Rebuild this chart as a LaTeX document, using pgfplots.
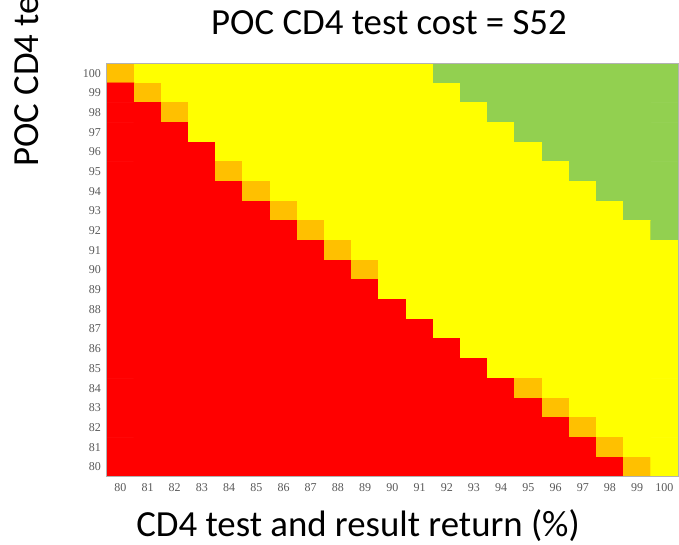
\documentclass[border=0pt]{standalone}
\usepackage{fontspec}
\setmainfont{Carlito}
\newfontfamily\tickfont{Liberation Serif}
\usepackage{pgfplots}
\pgfplotsset{compat=1.18}
\begin{document}
\begin{tikzpicture}
\useasboundingbox (0,0) rectangle (339.5pt,272.5pt);
\begin{axis}[
  at={(53.35pt,34.15pt)}, anchor=south west,
  scale only axis, width=285.65pt, height=206.7pt,
  xmin=79.5, xmax=100.5, ymin=79.5, ymax=100.5,
  xtick={80,...,100}, ytick={80,...,100},
  major tick length=0pt,
  axis line style={draw=gray!60, line width=0.5pt},
  /pgf/number format/assume math mode=true,
  ticklabel style={font=\tickfont\fontsize{6}{7}\selectfont, text=black!65},
  yticklabel style={xshift=0.6pt},
  % 0 = red, 1 = orange, 2 = yellow, 3 = green
  colormap={cd4}{rgb255=(255,0,0) rgb255=(255,192,0) rgb255=(255,255,0) rgb255=(146,208,80)},
  colormap access=direct,
  enlargelimits=false, axis on top,
]
\addplot[matrix plot*, mesh/cols=21, point meta=explicit] coordinates {
(80,100)[1] (81,100)[2] (82,100)[2] (83,100)[2] (84,100)[2] (85,100)[2] (86,100)[2] (87,100)[2] (88,100)[2] (89,100)[2] (90,100)[2] (91,100)[2] (92,100)[3] (93,100)[3] (94,100)[3] (95,100)[3] (96,100)[3] (97,100)[3] (98,100)[3] (99,100)[3] (100,100)[3]
(80,99)[0] (81,99)[1] (82,99)[2] (83,99)[2] (84,99)[2] (85,99)[2] (86,99)[2] (87,99)[2] (88,99)[2] (89,99)[2] (90,99)[2] (91,99)[2] (92,99)[2] (93,99)[3] (94,99)[3] (95,99)[3] (96,99)[3] (97,99)[3] (98,99)[3] (99,99)[3] (100,99)[3]
(80,98)[0] (81,98)[0] (82,98)[1] (83,98)[2] (84,98)[2] (85,98)[2] (86,98)[2] (87,98)[2] (88,98)[2] (89,98)[2] (90,98)[2] (91,98)[2] (92,98)[2] (93,98)[2] (94,98)[3] (95,98)[3] (96,98)[3] (97,98)[3] (98,98)[3] (99,98)[3] (100,98)[3]
(80,97)[0] (81,97)[0] (82,97)[0] (83,97)[2] (84,97)[2] (85,97)[2] (86,97)[2] (87,97)[2] (88,97)[2] (89,97)[2] (90,97)[2] (91,97)[2] (92,97)[2] (93,97)[2] (94,97)[2] (95,97)[3] (96,97)[3] (97,97)[3] (98,97)[3] (99,97)[3] (100,97)[3]
(80,96)[0] (81,96)[0] (82,96)[0] (83,96)[0] (84,96)[2] (85,96)[2] (86,96)[2] (87,96)[2] (88,96)[2] (89,96)[2] (90,96)[2] (91,96)[2] (92,96)[2] (93,96)[2] (94,96)[2] (95,96)[2] (96,96)[3] (97,96)[3] (98,96)[3] (99,96)[3] (100,96)[3]
(80,95)[0] (81,95)[0] (82,95)[0] (83,95)[0] (84,95)[1] (85,95)[2] (86,95)[2] (87,95)[2] (88,95)[2] (89,95)[2] (90,95)[2] (91,95)[2] (92,95)[2] (93,95)[2] (94,95)[2] (95,95)[2] (96,95)[2] (97,95)[3] (98,95)[3] (99,95)[3] (100,95)[3]
(80,94)[0] (81,94)[0] (82,94)[0] (83,94)[0] (84,94)[0] (85,94)[1] (86,94)[2] (87,94)[2] (88,94)[2] (89,94)[2] (90,94)[2] (91,94)[2] (92,94)[2] (93,94)[2] (94,94)[2] (95,94)[2] (96,94)[2] (97,94)[2] (98,94)[3] (99,94)[3] (100,94)[3]
(80,93)[0] (81,93)[0] (82,93)[0] (83,93)[0] (84,93)[0] (85,93)[0] (86,93)[1] (87,93)[2] (88,93)[2] (89,93)[2] (90,93)[2] (91,93)[2] (92,93)[2] (93,93)[2] (94,93)[2] (95,93)[2] (96,93)[2] (97,93)[2] (98,93)[2] (99,93)[3] (100,93)[3]
(80,92)[0] (81,92)[0] (82,92)[0] (83,92)[0] (84,92)[0] (85,92)[0] (86,92)[0] (87,92)[1] (88,92)[2] (89,92)[2] (90,92)[2] (91,92)[2] (92,92)[2] (93,92)[2] (94,92)[2] (95,92)[2] (96,92)[2] (97,92)[2] (98,92)[2] (99,92)[2] (100,92)[3]
(80,91)[0] (81,91)[0] (82,91)[0] (83,91)[0] (84,91)[0] (85,91)[0] (86,91)[0] (87,91)[0] (88,91)[1] (89,91)[2] (90,91)[2] (91,91)[2] (92,91)[2] (93,91)[2] (94,91)[2] (95,91)[2] (96,91)[2] (97,91)[2] (98,91)[2] (99,91)[2] (100,91)[2]
(80,90)[0] (81,90)[0] (82,90)[0] (83,90)[0] (84,90)[0] (85,90)[0] (86,90)[0] (87,90)[0] (88,90)[0] (89,90)[1] (90,90)[2] (91,90)[2] (92,90)[2] (93,90)[2] (94,90)[2] (95,90)[2] (96,90)[2] (97,90)[2] (98,90)[2] (99,90)[2] (100,90)[2]
(80,89)[0] (81,89)[0] (82,89)[0] (83,89)[0] (84,89)[0] (85,89)[0] (86,89)[0] (87,89)[0] (88,89)[0] (89,89)[0] (90,89)[2] (91,89)[2] (92,89)[2] (93,89)[2] (94,89)[2] (95,89)[2] (96,89)[2] (97,89)[2] (98,89)[2] (99,89)[2] (100,89)[2]
(80,88)[0] (81,88)[0] (82,88)[0] (83,88)[0] (84,88)[0] (85,88)[0] (86,88)[0] (87,88)[0] (88,88)[0] (89,88)[0] (90,88)[0] (91,88)[2] (92,88)[2] (93,88)[2] (94,88)[2] (95,88)[2] (96,88)[2] (97,88)[2] (98,88)[2] (99,88)[2] (100,88)[2]
(80,87)[0] (81,87)[0] (82,87)[0] (83,87)[0] (84,87)[0] (85,87)[0] (86,87)[0] (87,87)[0] (88,87)[0] (89,87)[0] (90,87)[0] (91,87)[0] (92,87)[2] (93,87)[2] (94,87)[2] (95,87)[2] (96,87)[2] (97,87)[2] (98,87)[2] (99,87)[2] (100,87)[2]
(80,86)[0] (81,86)[0] (82,86)[0] (83,86)[0] (84,86)[0] (85,86)[0] (86,86)[0] (87,86)[0] (88,86)[0] (89,86)[0] (90,86)[0] (91,86)[0] (92,86)[0] (93,86)[2] (94,86)[2] (95,86)[2] (96,86)[2] (97,86)[2] (98,86)[2] (99,86)[2] (100,86)[2]
(80,85)[0] (81,85)[0] (82,85)[0] (83,85)[0] (84,85)[0] (85,85)[0] (86,85)[0] (87,85)[0] (88,85)[0] (89,85)[0] (90,85)[0] (91,85)[0] (92,85)[0] (93,85)[0] (94,85)[2] (95,85)[2] (96,85)[2] (97,85)[2] (98,85)[2] (99,85)[2] (100,85)[2]
(80,84)[0] (81,84)[0] (82,84)[0] (83,84)[0] (84,84)[0] (85,84)[0] (86,84)[0] (87,84)[0] (88,84)[0] (89,84)[0] (90,84)[0] (91,84)[0] (92,84)[0] (93,84)[0] (94,84)[0] (95,84)[1] (96,84)[2] (97,84)[2] (98,84)[2] (99,84)[2] (100,84)[2]
(80,83)[0] (81,83)[0] (82,83)[0] (83,83)[0] (84,83)[0] (85,83)[0] (86,83)[0] (87,83)[0] (88,83)[0] (89,83)[0] (90,83)[0] (91,83)[0] (92,83)[0] (93,83)[0] (94,83)[0] (95,83)[0] (96,83)[1] (97,83)[2] (98,83)[2] (99,83)[2] (100,83)[2]
(80,82)[0] (81,82)[0] (82,82)[0] (83,82)[0] (84,82)[0] (85,82)[0] (86,82)[0] (87,82)[0] (88,82)[0] (89,82)[0] (90,82)[0] (91,82)[0] (92,82)[0] (93,82)[0] (94,82)[0] (95,82)[0] (96,82)[0] (97,82)[1] (98,82)[2] (99,82)[2] (100,82)[2]
(80,81)[0] (81,81)[0] (82,81)[0] (83,81)[0] (84,81)[0] (85,81)[0] (86,81)[0] (87,81)[0] (88,81)[0] (89,81)[0] (90,81)[0] (91,81)[0] (92,81)[0] (93,81)[0] (94,81)[0] (95,81)[0] (96,81)[0] (97,81)[0] (98,81)[1] (99,81)[2] (100,81)[2]
(80,80)[0] (81,80)[0] (82,80)[0] (83,80)[0] (84,80)[0] (85,80)[0] (86,80)[0] (87,80)[0] (88,80)[0] (89,80)[0] (90,80)[0] (91,80)[0] (92,80)[0] (93,80)[0] (94,80)[0] (95,80)[0] (96,80)[0] (97,80)[0] (98,80)[0] (99,80)[1] (100,80)[2]
};
\end{axis}
% title and axis captions
\node[anchor=base, font=\fontsize{18.4}{22}\selectfont] at (194.5pt,255.35pt) {POC CD4 test cost = S52};
\node[anchor=base, font=\fontsize{18.4}{22}\selectfont] at (179pt,4.15pt) {CD4 test and result return (\%)};
\begin{scope}
  \clip (0,0) rectangle (339.5pt,272.5pt);
  \node[anchor=base west, rotate=90, inner sep=0pt, font=\fontsize{18.4}{22}\selectfont] at (19pt,189pt) {POC CD4 test and result return (\%)};
\end{scope}
\end{tikzpicture}
\end{document}
